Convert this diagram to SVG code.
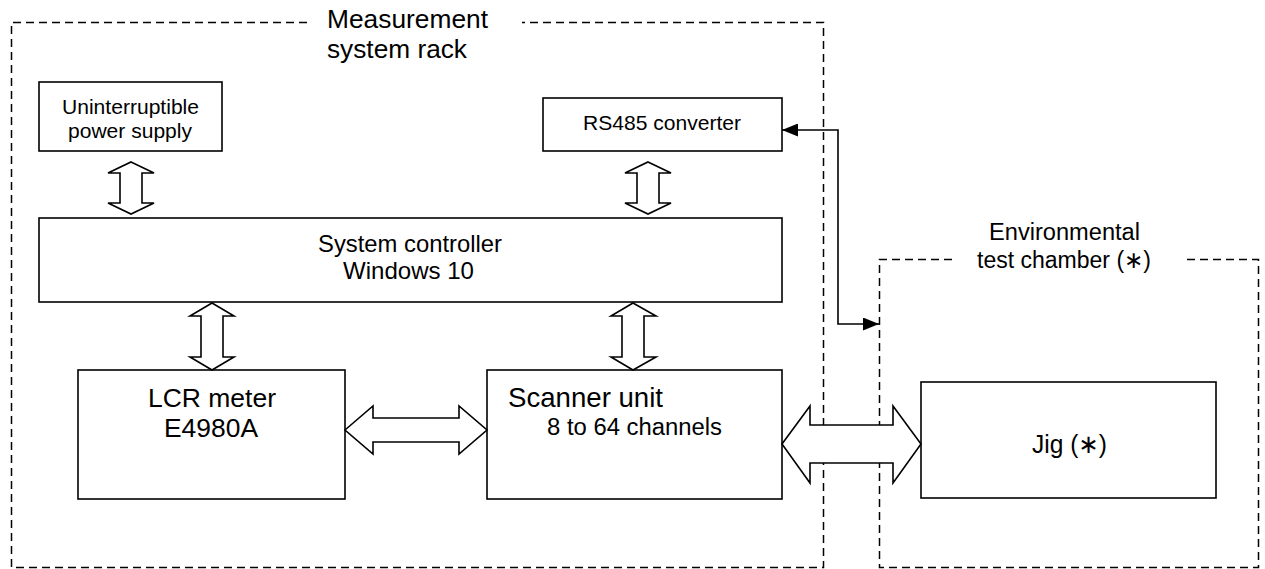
<svg xmlns="http://www.w3.org/2000/svg" width="1265" height="569" viewBox="0 0 1265 569">
<style>
  .dash { fill: none; stroke: #000; stroke-width: 1.5; stroke-dasharray: 8 5; }
  .box { fill: #fff; stroke: #000; stroke-width: 1.6; }
  .barrow { fill: #fff; stroke: #000; stroke-width: 1.6; stroke-linejoin: miter; }
  .line { fill: none; stroke: #000; stroke-width: 1.6; }
  text { font-family: "Liberation Sans", Arial, "DejaVu Sans", sans-serif; fill: #000; }
</style>
<defs>
  <marker id="tri" viewBox="0 0 16 13" refX="16" refY="6.5" markerWidth="16" markerHeight="13" markerUnits="userSpaceOnUse" orient="auto-start-reverse">
    <path d="M0,0 L16,6.5 L0,13 z" fill="#000"/>
  </marker>
</defs>
<rect width="1265" height="569" fill="#fff"/>

<g id="rack">
  <path class="dash" d="M307,22.5 H11.5 V567.5 H823.5 V22.5 H522"/>
  <text x="327" y="28" font-size="26" textLength="161" lengthAdjust="spacingAndGlyphs">Measurement</text>
  <text x="327" y="58" font-size="26" textLength="140" lengthAdjust="spacingAndGlyphs">system rack</text>
</g>

<g id="chamber">
  <path class="dash" d="M952,259.5 H879.5 V567.5 H1258.5 V259.5 H1185"/>
  <text x="1064.5" y="240" font-size="23.5" text-anchor="middle" textLength="151" lengthAdjust="spacingAndGlyphs">Environmental</text>
  <text x="1064" y="268" font-size="23.5" text-anchor="middle" textLength="174" lengthAdjust="spacingAndGlyphs">test chamber (∗)</text>
</g>

<g id="ups">
  <rect class="box" x="39" y="82" width="183" height="69"/>
  <text x="130.5" y="114" font-size="21" text-anchor="middle" textLength="137" lengthAdjust="spacingAndGlyphs">Uninterruptible</text>
  <text x="130" y="137.5" font-size="21" text-anchor="middle" textLength="124" lengthAdjust="spacingAndGlyphs">power supply</text>
</g>

<g id="rs485">
  <rect class="box" x="543" y="98" width="239" height="53"/>
  <text x="662" y="129.5" font-size="21" text-anchor="middle" textLength="158" lengthAdjust="spacingAndGlyphs">RS485 converter</text>
</g>

<g id="controller">
  <rect class="box" x="39" y="218" width="743" height="84"/>
  <text x="410" y="252" font-size="24" text-anchor="middle" textLength="184" lengthAdjust="spacingAndGlyphs">System controller</text>
  <text x="408.5" y="278.5" font-size="24" text-anchor="middle" textLength="131" lengthAdjust="spacingAndGlyphs">Windows 10</text>
</g>

<g id="lcr">
  <rect class="box" x="78" y="370" width="267" height="129"/>
  <text x="212" y="406.5" font-size="26" text-anchor="middle" textLength="128" lengthAdjust="spacingAndGlyphs">LCR meter</text>
  <text x="211" y="436.5" font-size="26" text-anchor="middle" textLength="94" lengthAdjust="spacingAndGlyphs">E4980A</text>
</g>

<g id="scanner">
  <rect class="box" x="487" y="370" width="295" height="129"/>
  <text x="508" y="407" font-size="27.5" textLength="155" lengthAdjust="spacingAndGlyphs">Scanner unit</text>
  <text x="547" y="435" font-size="23" textLength="175" lengthAdjust="spacingAndGlyphs">8 to 64 channels</text>
</g>

<g id="jig">
  <rect class="box" x="921" y="382" width="295" height="116"/>
  <text x="1069.5" y="453" font-size="26" text-anchor="middle" textLength="75" lengthAdjust="spacingAndGlyphs">Jig (∗)</text>
</g>

<g id="connectors">
  <polygon class="barrow" points="131,162 154,173 142,173 142,203 154,203 131,214 108,203 120,203 120,173 108,173"/>
  <polygon class="barrow" points="648,162 671,173 659,173 659,203 671,203 648,214 625,203 637,203 637,173 625,173"/>
  <polygon class="barrow" points="212,303 234,316 223,316 223,357 234,357 212,370 190,357 201,357 201,316 190,316"/>
  <polygon class="barrow" points="633,303 656,316 644,316 644,357 656,357 633,370 611,357 622,357 622,316 611,316"/>
  <polygon class="barrow" points="345,430 373,406 373,418 459,418 459,406 487,430 459,454 459,442 373,442 373,454"/>
  <polygon class="barrow" points="782,444 810,406 810,425 893,425 893,406 921,444 893,483 893,463 810,463 810,483"/>
  <path class="line" d="M782,130 H838 V324 H879" marker-start="url(#tri)" marker-end="url(#tri)"/>
</g>
</svg>
